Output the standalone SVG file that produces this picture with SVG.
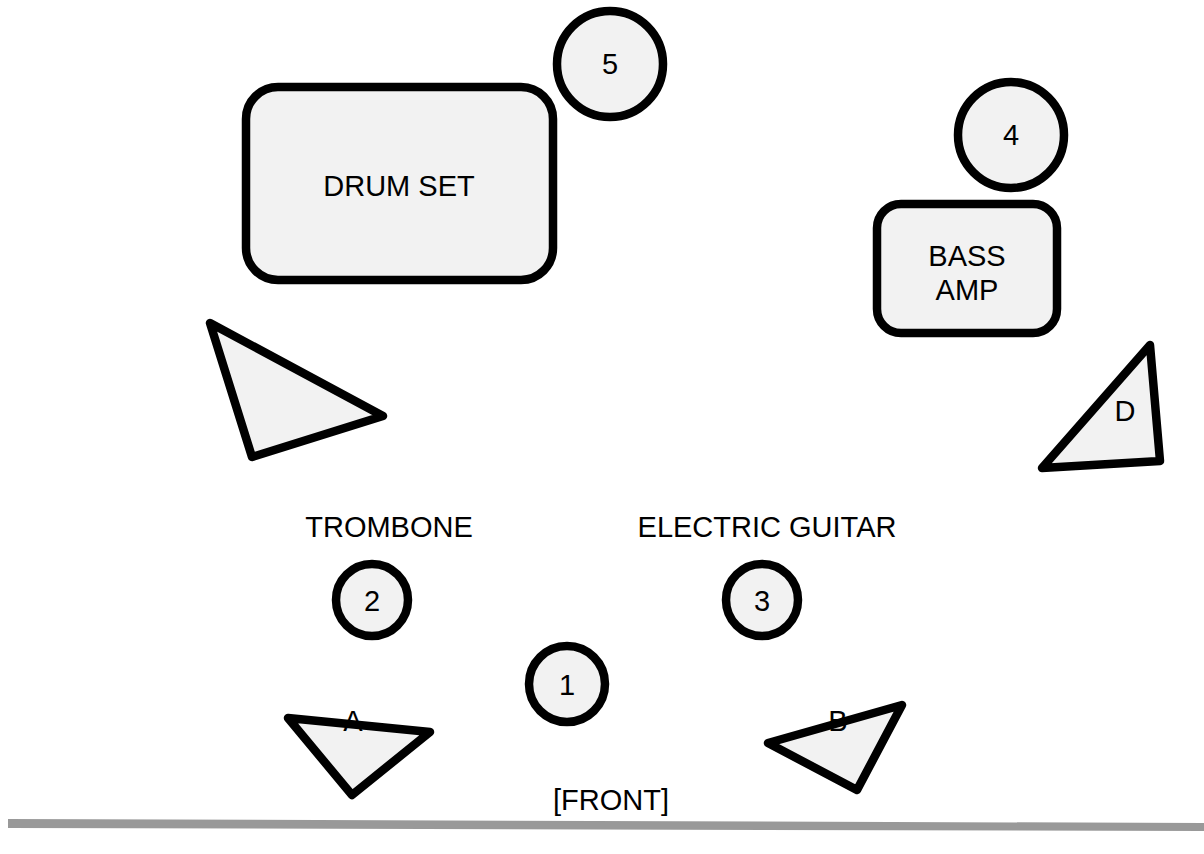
<svg xmlns="http://www.w3.org/2000/svg" width="1204" height="854" viewBox="0 0 1204 854">
<style>
.s{fill:#f2f2f2;stroke:#000;stroke-width:8.5;stroke-linejoin:round}
.t{font-family:"Liberation Sans",Arial,sans-serif;font-size:29px;fill:#000;text-anchor:middle}
</style>
<rect width="1204" height="854" fill="#fff"/>
<g id="drum-set"><rect class="s" x="246" y="87" width="307" height="193" rx="32"/><text class="t" x="399" y="196">DRUM SET</text></g>
<g id="mon-5"><circle class="s" cx="610" cy="64" r="53"/><text class="t" x="610" y="74">5</text></g>
<g id="mon-4"><circle class="s" cx="1011" cy="135" r="53"/><text class="t" x="1011" y="145">4</text></g>
<g id="bass-amp"><rect class="s" x="877" y="204" width="180" height="129" rx="24"/><text class="t" x="967" y="266">BASS</text><text class="t" x="967" y="300">AMP</text></g>
<g id="tri-left"><polygon class="s" points="210,323 383,416 252,457"/></g>
<g id="tri-d"><polygon class="s" points="1150,345 1160,461 1042,468"/><text class="t" x="1125" y="421">D</text></g>
<g id="trombone"><text class="t" x="389" y="537">TROMBONE</text></g>
<g id="guitar"><text class="t" x="767" y="537">ELECTRIC GUITAR</text></g>
<g id="mon-2"><circle class="s" cx="372" cy="600" r="36"/><text class="t" x="372" y="611">2</text></g>
<g id="mon-3"><circle class="s" cx="762" cy="600" r="36"/><text class="t" x="762" y="611">3</text></g>
<g id="mon-1"><circle class="s" cx="567" cy="684" r="38"/><text class="t" x="567" y="695">1</text></g>
<g id="tri-a"><polygon class="s" points="288,718 430,732 352,795"/><text class="t" x="353" y="731">A</text></g>
<g id="tri-b"><polygon class="s" points="902,705 768,743 857,790"/><text class="t" x="838" y="731">B</text></g>
<g id="front"><text class="t" x="611" y="810">[FRONT]</text></g>
<g id="connectors"></g>
<polygon points="8,819 1204,823 1204,831 8,828" fill="#999"/>
</svg>
